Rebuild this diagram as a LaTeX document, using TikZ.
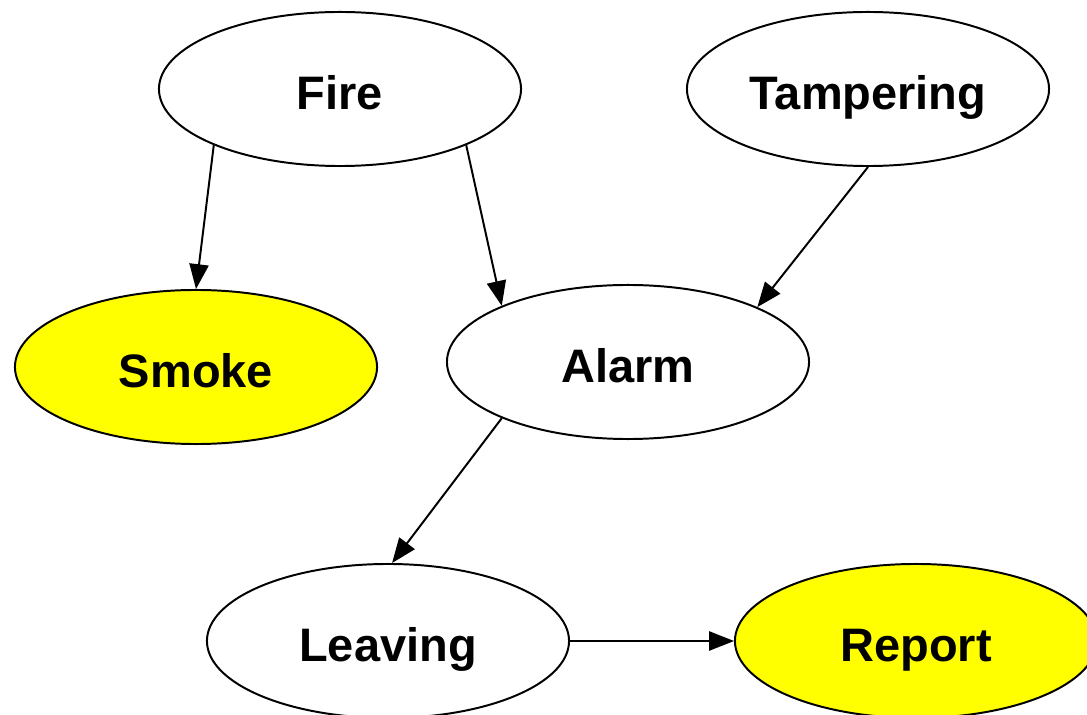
\documentclass[tikz,border=0pt]{standalone}
\usepackage{fontspec}
\setmainfont{Liberation Sans}
\usepackage{tikz}
\usetikzlibrary{arrows.meta, shapes.geometric}
\definecolor{evidence}{HTML}{FFFF00}

\begin{document}
\begin{tikzpicture}[
  x=0.025cm, y=-0.025cm,
  var/.style={ellipse, draw=black, line width=1.4pt, fill=white,
              minimum width=9.05cm, minimum height=3.85cm, inner sep=0pt,
              text height=1cm, text depth=0pt,
              font=\fontsize{33.4}{40}\selectfont\bfseries},
  obs/.style={var, fill=evidence},
  dep/.style={line width=1.4pt, -{Triangle[length=6.2mm, width=4.8mm]}}
]
  \useasboundingbox (0,0) rectangle (1087,715);

  \node[var] (fire)   at (340,89)  {Fire};
  \node[var] (tamper) at (868,89)  {Tampering};
  \node[obs] (smoke)  at (196,367) {Smoke};
  \node[var] (alarm)  at (628,362) {Alarm};
  \node[var] (leave)  at (388,641) {Leaving};
  \node[obs] (report) at (916,641) {Report};

  \draw[dep] (fire.204)      -- (smoke.north);
  \draw[dep] (fire.336)      -- (alarm.156);
  \draw[dep] (tamper.south)  -- (alarm.23);
  \draw[dep] (alarm.204)     -- (leave.87);
  \draw[dep] (leave.east)    -- (report.west);
\end{tikzpicture}
\end{document}
